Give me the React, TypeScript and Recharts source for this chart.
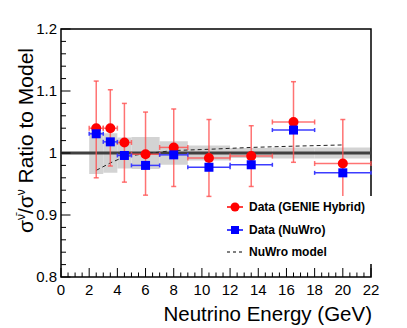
import React from "react";
import {
  ComposedChart,
  XAxis,
  YAxis,
  Scatter,
  Line,
  ErrorBar,
  ReferenceArea,
  ReferenceLine,
  Legend,
} from "recharts";

// bin centres and half widths (GeV)
const energies = [2.5, 3.5, 4.5, 6, 8, 10.5, 13.5, 16.5, 20];
const binHalfWidths = [0.5, 0.5, 0.5, 1, 1, 1.5, 1.5, 1.5, 2];

// data / model ratios
const genieRatio = [1.04, 1.04, 1.017, 0.998, 1.009, 0.992, 0.995, 1.05, 0.983];
const genieErrLow = [0.08, 0.061, 0.064, 0.066, 0.063, 0.062, 0.049, 0.065, 0.065];
const genieErrHigh = [0.076, 0.062, 0.063, 0.068, 0.062, 0.062, 0.049, 0.065, 0.071];
const nuwroRatio = [1.031, 1.018, 0.996, 0.98, 0.997, 0.977, 0.981, 1.037, 0.968];
const modelRatio = [0.972, 0.984, 0.994, 0.999, 1.004, 1.006, 1.009, 1.011, 1.013];
const systBand = [0.034, 0.032, 0.025, 0.026, 0.019, 0.012, 0.008, 0.009, 0.009];

const xMajorTicks = [0, 2, 4, 6, 8, 10, 12, 14, 16, 18, 20, 22];
const yMajorTicks = [0.8, 0.9, 1, 1.1, 1.2];

const FONT = "'Liberation Sans', Arial, sans-serif";

const xTicks = Array.from({ length: 45 }, (_, i) => i * 0.5);
const yTicks = Array.from({ length: 21 }, (_, i) => 0.8 + i * 0.02);

const genieData = energies.map((x, i) => ({
  x,
  y: genieRatio[i],
  ex: binHalfWidths[i],
  ey: [genieErrLow[i], genieErrHigh[i]],
}));
const nuwroData = energies.map((x, i) => ({ x, y: nuwroRatio[i], ex: binHalfWidths[i] }));
const modelData = energies.map((x, i) => ({ x, y: modelRatio[i] }));

const findMajor = (list: number[], v: number) => list.find((t) => Math.abs(t - v) < 1e-6);

const XTick = (props: any) => {
  const { x, y, payload } = props;
  const major = findMajor(xMajorTicks, payload.value);
  return (
    <g>
      <line x1={x} x2={x} y1={y} y2={y - (major !== undefined ? 9 : 4.5)} stroke="#000" />
      {major !== undefined && (
        <text x={x} y={y + 18} textAnchor="middle" fontSize={15} fontFamily={FONT} fill="#000">
          {String(major)}
        </text>
      )}
    </g>
  );
};

const YTick = (props: any) => {
  const { x, y, payload } = props;
  const major = findMajor(yMajorTicks, payload.value);
  return (
    <g>
      <line x1={x} x2={x + (major !== undefined ? 9.5 : 5)} y1={y} y2={y} stroke="#000" />
      {major !== undefined && (
        <text x={x - 4} y={y + 5.4} textAnchor="end" fontSize={15} fontFamily={FONT} fill="#000">
          {String(major)}
        </text>
      )}
    </g>
  );
};

const YTitle = (props: any) => {
  const { viewBox } = props;
  const x = viewBox.x + 12;
  const y = viewBox.y + 19;
  return (
    <text
      x={x}
      y={y}
      transform={`rotate(-90 ${x} ${y})`}
      textAnchor="end"
      fontSize={21}
      fontFamily={FONT}
      fill="#000"
    >
      σ
      <tspan fontSize={12} dy={-8}>
        ν̄
      </tspan>
      <tspan dy={8}>/σ</tspan>
      <tspan fontSize={12} dy={-8}>
        ν
      </tspan>
      <tspan dy={8}> Ratio to Model</tspan>
    </text>
  );
};

const XTitle = (props: any) => {
  const { viewBox } = props;
  return (
    <text
      x={viewBox.x + viewBox.width + 1}
      y={viewBox.y + 44}
      textAnchor="end"
      fontSize={20.5}
      fontFamily={FONT}
      fill="#000"
    >
      Neutrino Energy (GeV)
    </text>
  );
};

const LegendBox = () => {
  const row = { display: "flex", alignItems: "center", height: 22.5 };
  const label = { fontFamily: FONT, fontWeight: 700, fontSize: 12, color: "#000", whiteSpace: "nowrap" as const };
  return (
    <div style={{ background: "#fff", padding: "0 0 0 3px" }}>
      <div style={row}>
        <svg width={24} height={14}>
          <line x1={2} x2={18} y1={7} y2={7} stroke="#f00" strokeWidth={1.5} />
          <circle cx={10} cy={7} r={4.5} fill="#f00" />
        </svg>
        <span style={label}>Data (GENIE Hybrid)</span>
      </div>
      <div style={row}>
        <svg width={24} height={14}>
          <line x1={2} x2={18} y1={7} y2={7} stroke="#00f" strokeWidth={1.5} />
          <rect x={6} y={3} width={8} height={8} fill="#00f" />
        </svg>
        <span style={label}>Data (NuWro)</span>
      </div>
      <div style={row}>
        <svg width={24} height={14}>
          <line x1={2} x2={18} y1={7} y2={7} stroke="#000" strokeDasharray="3 3" />
        </svg>
        <span style={label}>NuWro model</span>
      </div>
    </div>
  );
};

export default function App() {
  return (
    <div style={{ position: "absolute", left: 0, top: 0, width: 407, height: 328, background: "#fff" }}>
      <style>{"body{margin:0}"}</style>
      <ComposedChart width={407} height={328} margin={{ top: 29, right: 36, bottom: 21, left: 21 }}>
        <XAxis
          type="number"
          dataKey="x"
          domain={[0, 22]}
          ticks={xTicks}
          interval={0}
          tickSize={0}
          tickMargin={0}
          tickLine={false}
          axisLine={false}
          tick={<XTick />}
          height={30}
          allowDataOverflow
          label={{ content: <XTitle /> }}
        />
        <YAxis
          type="number"
          dataKey="y"
          domain={[0.8, 1.2]}
          ticks={yTicks}
          interval={0}
          tickSize={0}
          tickMargin={0}
          tickLine={false}
          axisLine={false}
          tick={<YTick />}
          width={40}
          allowDataOverflow
          label={{ content: <YTitle /> }}
        />
        {energies.map((e, i) => (
          <ReferenceArea
            key={e}
            x1={e - binHalfWidths[i]}
            x2={e + binHalfWidths[i]}
            y1={1 - systBand[i]}
            y2={1 + systBand[i]}
            fill="#d3d3d3"
            fillOpacity={1}
            stroke="none"
          />
        ))}
        <ReferenceLine y={1} stroke="#404040" strokeWidth={3} />
        <Line
          data={modelData}
          dataKey="y"
          type="linear"
          stroke="#222"
          strokeWidth={1}
          strokeDasharray="4 3"
          dot={false}
          isAnimationActive={false}
        />
        <Scatter
          data={genieData}
          isAnimationActive={false}
          shape={(p: any) => <circle cx={p.cx} cy={p.cy} r={5} fill="#f00" />}
        >
          <ErrorBar dataKey="ey" direction="y" width={2.5} stroke="#ff5050" strokeOpacity={0.8} strokeWidth={1.5} />
          <ErrorBar dataKey="ex" direction="x" width={2.5} stroke="#ff5050" strokeOpacity={0.8} strokeWidth={1.5} />
        </Scatter>
        <Scatter
          data={nuwroData}
          isAnimationActive={false}
          shape={(p: any) => <rect x={p.cx - 4.5} y={p.cy - 4.5} width={9} height={9} fill="#00f" />}
        >
          <ErrorBar dataKey="ex" direction="x" width={2} stroke="#3c3cff" strokeWidth={1.5} />
        </Scatter>
        <ReferenceArea x1={0} x2={22} y1={0.8} y2={1.2} fill="none" stroke="#000" strokeWidth={1.5} />
        <Legend
          layout="vertical"
          align="center"
          verticalAlign="middle"
          content={<LegendBox />}
          wrapperStyle={{ left: 222, top: 196, width: 150 }}
        />
      </ComposedChart>
    </div>
  );
}
